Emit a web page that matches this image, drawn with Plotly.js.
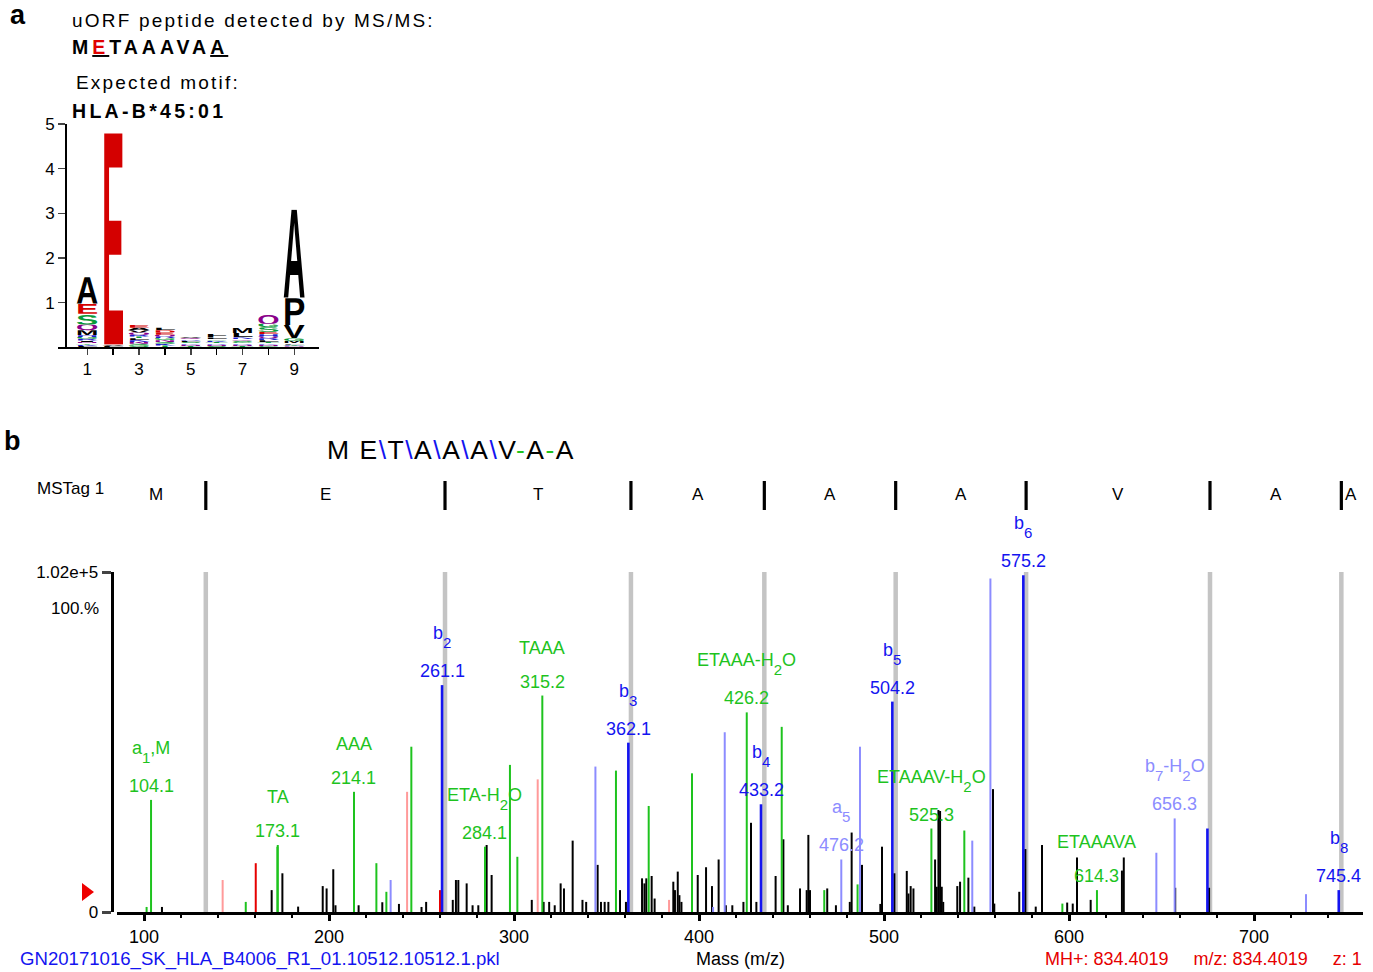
<!DOCTYPE html>
<html>
<head>
<meta charset="utf-8">
<script src="https://cdn.plot.ly/plotly-3.0.1.min.js"></script>
<style>html,body{margin:0;padding:0;background:#fff;}#chart{width:1373px;height:972px;}</style>
</head>
<body>
<div id="chart"></div>
<script>
// ---------------- DATA ----------------
// Panel a: sequence logo (bottom -> top per position)
const logoPositions = [1, 2, 3, 4, 5, 6, 7, 8, 9];
const logoLetters = [
  ['L','K','T','N','I','R','G','H','M','Q','S','E','A'],
  ['L','V','E'],
  ['G','S','N','K','L','T','R','Q','V','A','E'],
  ['T','K','S','N','G','R','Q','E','D','L'],
  ['T','N','K','S','L','R','Q','V'],
  ['S','N','R','T','K','G','L','F'],
  ['T','N','R','G','S','Q','K','L','M'],
  ['G','N','K','T','L','R','Q','H','E','S','G','Q'],
  ['N','K','T','L','M','G','V','P','A']
];
const logoHeights = [
  [0.03,0.03,0.03,0.03,0.03,0.04,0.04,0.04,0.11,0.13,0.24,0.23,0.59],
  [0.03,0.03,4.74],
  [0.04,0.04,0.04,0.04,0.04,0.04,0.04,0.05,0.05,0.06,0.06],
  [0.04,0.04,0.04,0.04,0.04,0.04,0.04,0.05,0.05,0.06],
  [0.03,0.03,0.03,0.03,0.03,0.03,0.025,0.025],
  [0.03,0.03,0.03,0.03,0.03,0.03,0.04,0.08],
  [0.03,0.03,0.03,0.03,0.03,0.03,0.04,0.10,0.12],
  [0.03,0.03,0.03,0.03,0.04,0.04,0.04,0.05,0.06,0.10,0.08,0.21],
  [0.02,0.02,0.02,0.03,0.05,0.06,0.30,0.60,1.98]
];
const logoXTickVals = [1, 3, 5, 7, 9];

// Panel b: MS/MS spectrum (m/z, relative intensity %)
// ion names: [main, subscript, tail] pieces
const ionNames  = [['a','1',',M'],['TA','',''],['AAA','',''],['b','2',''],['ETA-H','2','O'],['TAAA','',''],['b','3',''],['ETAAA-H','2','O'],['b','4',''],['a','5',''],['b','5',''],['ETAAAV-H','2','O'],['b','6',''],['ETAAAVA','',''],['b','7','-H|2|O'],['b','8','']];
const ionLabels = ['104.1','173.1','214.1','261.1','284.1','315.2','362.1','426.2','433.2','476.2','504.2','525.3','575.2','614.3','656.3','745.4'];
const ionMz     = [103.8,172.3,213.5,261.1,284.3,315.3,361.8,425.8,433.5,476.9,504.5,525.6,575.3,615.1,657.1,745.8];
const ionInt    = [33.3,19.9,35.7,67.4,19.4,64.3,50.3,59.3,32.0,15.6,62.5,24.8,100,6.5,27.8,6.5];
const ionKind   = ['g','g','g','b','g','g','b','g','b','l','b','g','b','g','l','b'];

const greenMz  = [101.4,155.0,172.1,225.6,231.0,244.5,297.8,301.8,355.1,372.8,396.2,444.7,467.7,485.7,543.4,596.4];
const greenInt = [1.5,3.0,19.4,14.5,6.0,49.1,43.7,16.4,42.0,31.5,41.2,55.0,6.5,8.2,24.2,2.5];
const blueMz   = [674.8];
const blueInt  = [24.8];
const lightMz  = [233.3,344.0,407.6,413.9,487.0,547.7,557.5,647.2,728.1];
const lightInt = [9.5,43.2,1.5,53.4,49.1,21.2,99.1,17.6,5.3];
const redMz    = [160.4,260.0];
const redInt   = [14.5,6.5];
const pinkMz   = [142.5,242.2,312.8,383.8];
const pinkInt  = [9.5,35.7,39.4,3.6];
const blackMz  = [109.7,169.0,174.8,183.3,196.6,198.7,202.3,203.5,216.0,228.8,237.8,250.0,252.5,266.9,268.6,269.9,274.4,277.6,280.7,285.2,287.9,309.6,316.0,319.0,322.0,325.2,327.0,331.7,337.0,339.0,345.2,347.0,349.0,351.0,357.3,360.5,369.2,370.5,371.5,374.4,376.0,386.1,387.0,388.5,389.4,390.5,399.3,403.8,407.0,410.6,414.5,418.0,424.0,428.1,431.0,441.4,445.6,448.0,454.6,458.2,459.1,460.0,469.3,474.0,481.5,482.5,488.1,498.0,498.9,505.6,512.3,513.2,514.4,515.9,527.6,528.5,529.4,530.3,531.2,532.0,539.6,541.1,545.6,548.8,558.9,559.6,573.1,576.4,582.0,585.4,599.0,602.0,604.3,611.7,628.6,629.6,657.4,675.7];
const blackInt = [1.5,6.5,11.5,1.6,7.7,7.0,12.7,2.0,2.0,2.9,2.4,1.5,3.0,3.6,9.5,9.5,8.5,2.0,2.0,19.9,11.0,3.6,3.0,3.0,2.0,8.5,7.0,21.2,3.6,3.0,14.0,3.0,3.0,3.0,6.5,3.0,10.0,8.5,10.0,10.7,4.0,9.0,6.5,12.0,5.0,3.0,11.0,13.3,7.7,15.6,2.0,2.0,3.0,26.5,3.0,10.7,21.6,2.0,7.0,6.5,22.9,6.5,7.0,2.0,3.0,23.6,14.0,2.4,19.4,11.5,12.2,5.5,7.7,7.0,15.6,7.5,30.3,30.0,7.5,3.0,7.7,9.0,10.2,1.6,36.5,2.5,6.0,18.7,1.6,19.9,2.8,2.5,16.2,3.6,12.3,16.2,7.2,7.2];

const boundaryMz = [133.4,262.7,363.2,435.3,506.3,576.8,676.2,747.2];
const residues   = ['M','E','T','A','A','A','V','A','A'];
const xTickVals  = [100,200,300,400,500,600,700];

// ---------------- HELPERS ----------------
const W = 1373, H = 972;
const px = x => x / W;
const py = y => 1 - y / H;
const FONT = 'Liberation Sans, Arial, Helvetica, sans-serif';
const C = {g:'#1ec31e', b:'#1414f0', l:'#8c8cff', red:'#e60000', pink:'#ff9a9a', k:'#000000', gray:'#c4c4c4'};

function stems(xs, ys) {
  const x = [], y = [];
  xs.forEach((v, i) => { x.push(v, v, null); y.push(0, ys[i], null); });
  return {x, y};
}
function stemTrace(xs, ys, color, width) {
  const s = stems(xs, ys);
  return {x: s.x, y: s.y, xaxis: 'x2', yaxis: 'y2', type: 'scatter', mode: 'lines',
          line: {color: color, width: width}, hoverinfo: 'skip', showlegend: false};
}
// subscript written as a baseline-shifted span (no empty helper text nodes)
function subSpan(s) {
  return '<span style="baseline-shift:-9px;font-size:15px">' + s + '</span>';
}
function ionNameHtml(parts) {
  let t = parts[0];
  if (parts[1]) t += subSpan(parts[1]);
  if (parts[2]) {
    const tail = parts[2].split('|');
    tail.forEach((p, k) => { t += (k % 2 === 1) ? subSpan(p) : p; });
  }
  return t;
}

// logo letter colors
function letterColor(ch) {
  if ('DE'.includes(ch)) return '#d40000';
  if ('KRH'.includes(ch)) return '#1a1acc';
  if ('STGYC'.includes(ch)) return '#0a9a3a';
  if ('NQ'.includes(ch)) return '#8a008a';
  return '#000000';
}
function letterSvg(ch, color) {
  const svg = '<svg xmlns="http://www.w3.org/2000/svg" viewBox="0 0 100 100" preserveAspectRatio="none">' +
    '<text x="50" y="100" text-anchor="middle" font-family="Liberation Sans, Arial, sans-serif" font-weight="bold" ' +
    'font-size="145" textLength="96" lengthAdjust="spacingAndGlyphs" fill="' + color + '">' + ch + '</text></svg>';
  return 'data:image/svg+xml;charset=utf-8,' + encodeURIComponent(svg);
}

// ---------------- TRACES ----------------
const traces = [];
traces.push({x: logoPositions, y: logoPositions.map(() => 0), xaxis: 'x', yaxis: 'y', type: 'scatter',
             mode: 'markers', marker: {opacity: 0}, hoverinfo: 'skip', showlegend: false});

(function () {
  const s = stems(boundaryMz, boundaryMz.map(() => 101));
  traces.push({x: s.x, y: s.y, xaxis: 'x2', yaxis: 'y2', type: 'scatter', mode: 'lines',
               line: {color: C.gray, width: 4.5}, hoverinfo: 'skip', showlegend: false});
  const t = stems(boundaryMz, boundaryMz.map(() => 1));
  traces.push({x: t.x, y: t.y, xaxis: 'x2', yaxis: 'y3', type: 'scatter', mode: 'lines',
               line: {color: '#000', width: 3.2}, hoverinfo: 'skip', showlegend: false});
})();

traces.push(stemTrace(blackMz, blackInt, C.k, 2));
traces.push(stemTrace(pinkMz, pinkInt, C.pink, 2));
traces.push(stemTrace(redMz, redInt, C.red, 2));
traces.push(stemTrace(lightMz, lightInt, C.l, 2));
traces.push(stemTrace(greenMz, greenInt, C.g, 2));
traces.push(stemTrace(blueMz, blueInt, C.b, 2.6));
['l','g','b'].forEach(k => {
  const xs = [], ys = [];
  ionKind.forEach((kk, i) => { if (kk === k) { xs.push(ionMz[i]); ys.push(ionInt[i]); } });
  traces.push(stemTrace(xs, ys, C[k], k === 'b' ? 2.6 : 2));
});

// ---------------- ANNOTATIONS ----------------
const ann = [];
function paperText(text, x, y, size, opts) {
  ann.push(Object.assign({text: text, x: px(x), y: py(y), xref: 'paper', yref: 'paper',
    showarrow: false, xanchor: 'left', yanchor: 'middle',
    font: {family: FONT, size: size, color: '#000'}}, opts || {}));
}
// panel a
paperText('<b>a</b>', 8, 15, 27);
paperText('<span style="letter-spacing:2.2px">uORF peptide detected by MS/MS:</span>', 70, 20, 19);
paperText('<span style="letter-spacing:4px"><b>M<u><span style="color:#e00000">E</span></u>TAAAVA<u>A</u></b></span>', 70, 47, 19.5);
paperText('<span style="letter-spacing:2.2px">Expected motif:</span>', 74, 82, 19);
paperText('<span style="letter-spacing:3.3px"><b>HLA-B*45:01</b></span>', 70, 111, 19.5);
// panel b headings
paperText('<b>b</b>', 2, 441, 27);
paperText('<span style="letter-spacing:1.5px">M E<span style="color:#1414f0">\\</span>T<span style="color:#1414f0">\\</span>A<span style="color:#1414f0">\\</span>A<span style="color:#1414f0">\\</span>A<span style="color:#1414f0">\\</span>V<span style="color:#1ec31e">-</span>A<span style="color:#1ec31e">-</span>A</span>',
          325, 450, 26.5);
paperText('MSTag 1', 35, 488, 17);
paperText('100.%', 101, 608, 17, {xanchor: 'right'});
paperText('GN20171016_SK_HLA_B4006_R1_01.10512.10512.1.pkl', 18, 959, 18.6, {font: {family: FONT, size: 18.6, color: '#1414f0'}});
paperText('Mass (m/z)', 740, 959, 18, {xanchor: 'center'});
paperText('MH+: 834.4019\u00a0\u00a0\u00a0\u00a0\u00a0m/z: 834.4019\u00a0\u00a0\u00a0\u00a0\u00a0z: 1', 1364, 959, 18,
          {xanchor: 'right', font: {family: FONT, size: 18, color: '#e60000'}});

// MSTag residue letters
residues.forEach((r, i) => {
  let a = {text: r, xref: 'x2', yref: 'y3', y: 0.55, showarrow: false, yanchor: 'middle',
           font: {family: FONT, size: 17, color: '#000'}};
  if (i === 0) { a.x = boundaryMz[0]; a.xanchor = 'right'; a.xshift = -41; }
  else if (i === residues.length - 1) { a.x = boundaryMz[boundaryMz.length - 1]; a.xanchor = 'left'; a.xshift = 2; }
  else { a.x = (boundaryMz[i - 1] + boundaryMz[i]) / 2; a.xanchor = 'center'; }
  ann.push(a);
});

// ion labels
ionNames.forEach((nm, i) => {
  const col = C[ionKind[i]];
  ann.push({text: ionLabels[i], x: ionMz[i], y: ionInt[i], xref: 'x2', yref: 'y2', showarrow: false,
            xanchor: 'center', yanchor: 'middle', yshift: 14, font: {family: FONT, size: 18, color: col}});
  ann.push({text: ionNameHtml(nm), x: ionMz[i], y: ionInt[i], xref: 'x2', yref: 'y2', showarrow: false,
            xanchor: 'center', yanchor: 'middle', yshift: 48, font: {family: FONT, size: 18, color: col}});
});

// ---------------- SHAPES ----------------
const shapes = [{type: 'path', xref: 'paper', yref: 'paper',
  path: 'M ' + px(82) + ' ' + py(883) + ' L ' + px(94) + ' ' + py(892) + ' L ' + px(82) + ' ' + py(901) + ' Z',
  fillcolor: '#ee0000', line: {width: 0}}];

// ---------------- LOGO IMAGES ----------------
const images = [];
logoPositions.forEach((p, i) => {
  let base = 0;
  logoLetters[i].forEach((ch, j) => {
    const h = logoHeights[i][j];
    images.push({source: letterSvg(ch, letterColor(ch)), xref: 'x', yref: 'y',
                 x: p, y: base + h, sizex: 0.9, sizey: h, xanchor: 'center', yanchor: 'top',
                 sizing: 'stretch', layer: 'above'});
    base += h;
  });
});

// ---------------- LAYOUT ----------------
const layout = {
  width: W, height: H, margin: {l: 0, r: 0, t: 0, b: 0},
  paper_bgcolor: '#fff', plot_bgcolor: 'rgba(0,0,0,0)', showlegend: false,
  font: {family: FONT, color: '#000'},
  xaxis: {domain: [px(58), px(319)], range: [-0.132, 9.955], anchor: 'y',
          tickvals: logoXTickVals, ticks: 'outside', ticklen: 6, tickwidth: 1.5,
          minor: {tickvals: logoPositions, ticks: 'outside', ticklen: 6, tickwidth: 1.5, tickcolor: '#000', showgrid: false},
          showline: true, linewidth: 1.5, linecolor: '#000', showgrid: false, zeroline: false,
          tickfont: {family: FONT, size: 17}, fixedrange: true},
  yaxis: {domain: [py(347.3), py(124)], range: [0, 5], anchor: 'free', position: px(65),
          tickvals: [1, 2, 3, 4, 5], ticks: 'outside', ticklen: 7, tickwidth: 1.5,
          showline: true, linewidth: 1.5, linecolor: '#000', showgrid: false, zeroline: false,
          tickfont: {family: FONT, size: 17}, fixedrange: true},
  xaxis2: {domain: [px(117), px(1363)], range: [85.4, 758.9], anchor: 'y2',
           tickvals: xTickVals, ticks: 'outside', ticklen: 6, tickwidth: 3, tickcolor: '#000',
           minor: {dtick: 20, tick0: 0, ticks: 'outside', ticklen: 3, tickwidth: 2, tickcolor: '#000', showgrid: false},
           showline: true, linewidth: 3, linecolor: '#000', showgrid: false, zeroline: false,
           tickfont: {family: FONT, size: 18}, fixedrange: true},
  yaxis2: {domain: [py(912), py(572)], range: [0, 101], anchor: 'free', position: px(111.5),
           tickvals: [0, 101], ticktext: ['0', '1.02e+5'], ticks: 'outside', ticklen: 9, tickwidth: 3,
           showline: true, linewidth: 3, linecolor: '#000', showgrid: false, zeroline: false,
           tickfont: {family: FONT, size: 17}, fixedrange: true},
  yaxis3: {domain: [py(510), py(481)], range: [0, 1], anchor: 'x2', visible: false, fixedrange: true},
  annotations: ann, shapes: shapes, images: images
};

Plotly.newPlot('chart', traces, layout, {staticPlot: true, displayModeBar: false});
</script>
</body>
</html>
